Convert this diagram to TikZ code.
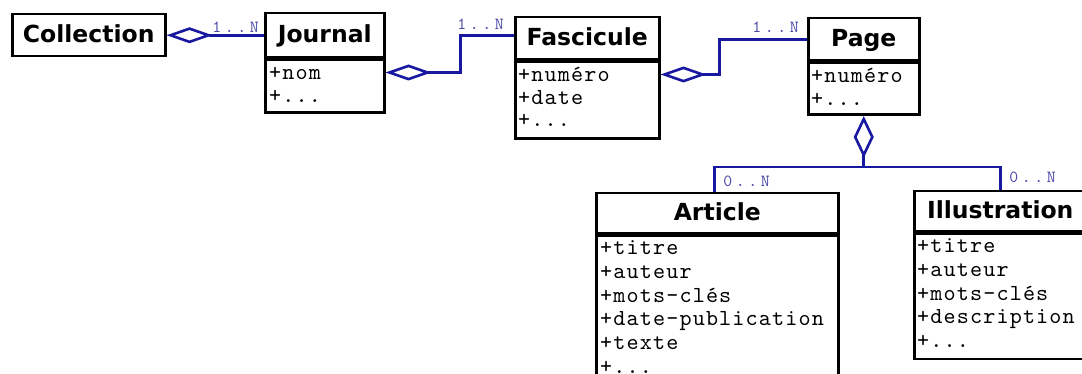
\documentclass[tikz,border=0pt]{standalone}
\usepackage{fontspec}
\usetikzlibrary{arrows.meta}
\newfontfamily\titlefont{DejaVu Sans}
\newfontfamily\myattrfont{lmmono10-regular}[Extension=.otf, LetterSpace=5]
\newfontfamily\mymultfont{lmmono10-regular}[Extension=.otf, LetterSpace=21]
\definecolor{assocblue}{RGB}{24,24,160}
\definecolor{multblue}{RGB}{75,75,170}
\begin{document}
\begin{tikzpicture}[x=1pt,y=-1pt,
 titlebox/.style={draw=black, line width=2.5pt, fill=white, font=\titlefont\bfseries\fontsize{23.5}{28}\selectfont, text height=16pt, text depth=1pt, inner sep=0pt, anchor=north west},
 attrbox/.style={draw=black, line width=2.5pt, fill=white, inner sep=0pt, anchor=north west},
 attrtext/.style={font=\myattrfont\fontsize{23}{22.5}\selectfont, align=left, inner sep=0pt, anchor=north west},
 attrtextlow/.style={attrtext, font=\myattrfont\fontsize{23}{23.7}\selectfont},
 mult/.style={font=\mymultfont\fontsize{17}{18}\selectfont, text=multblue, inner sep=0pt},
 assoc/.style={draw=assocblue, line width=2.6pt},
 agg/.style={assoc, arrows={Diamond[open,length=46pt,width=16pt]-}},
 aggv/.style={assoc, arrows={Diamond[open,length=42pt,width=20pt]-}},
]
\useasboundingbox (0,0) rectangle (1082,374);
\clip (0,0) rectangle (1082,374);
\fill[white] (0,0) rectangle (1082,374);

% Collection
\node[titlebox, minimum width=153pt, minimum height=42pt] (collection) at (11,13) {Collection};

% Journal
\node[titlebox, minimum width=119pt, minimum height=44pt] (journal) at (264,12) {Journal};
\node[attrbox, minimum width=119pt, minimum height=53pt] (journalattr) at (journal.south west) {};
\node[attrtext] (journaltext) at ([xshift=5pt,yshift=-3pt]journalattr.north west) {\rule{0pt}{18pt}+nom\\+...};

% Fascicule
\node[titlebox, minimum width=144pt, minimum height=42pt] (fascicule) at (514,16) {Fascicule};
\node[attrbox, minimum width=144pt, minimum height=77pt] (fasciculeattr) at (fascicule.south west) {};
\node[attrtext] (fasciculetext) at ([xshift=4pt,yshift=-3pt]fasciculeattr.north west) {\rule{0pt}{18pt}+numéro\\+date\\+...};

% Page
\node[titlebox, minimum width=111pt, minimum height=42pt] (page) at (807,17) {Page};
\node[attrbox, minimum width=111pt, minimum height=52pt] (pageattr) at (page.south west) {};
\node[attrtext] (pagetext) at ([xshift=4pt,yshift=-3pt]pageattr.north west) {\rule{0pt}{18pt}+numéro\\+...};

% Article
\node[titlebox, minimum width=242pt, minimum height=40pt] (article) at (595,192) {Article};
\node[attrbox, minimum width=242pt, minimum height=160pt] (articleattr) at (article.south west) {};
\node[attrtextlow] (articletext) at ([xshift=5pt,yshift=-2pt]articleattr.north west) {\rule{0pt}{18pt}+titre\\+auteur\\+mots-clés\\+date-publication\\+texte\\+...};

% Illustration
\node[titlebox, minimum width=172pt, minimum height=40pt] (illustration) at (913,190) {Illustration};
\node[attrbox, minimum width=172pt, minimum height=125pt] (illustrationattr) at (illustration.south west) {};
\node[attrtextlow] (illustrationtext) at ([xshift=4pt,yshift=-2pt]illustrationattr.north west) {\rule{0pt}{18pt}+titre\\+auteur\\+mots-clés\\+description\\+...};

% Collection - Journal
\draw[agg] (collection.east) -- (journal.west);
\node[mult, anchor=south east] (m1) at ([xshift=-5pt,yshift=3pt]journal.west) {1..N};

% Journal - Fascicule
\coordinate (jf) at ([yshift=-14pt]journalattr.north east);
\draw[agg] (jf) -- ++(75,0) |- ([yshift=3pt]fascicule.west);
\node[mult, anchor=south east] (m2) at ([xshift=-10pt,yshift=9pt]fascicule.west) {1..N};

% Fascicule - Page
\coordinate (fp) at ([yshift=-14pt]fasciculeattr.north east);
\draw[agg] (fp) -- ++(59,0) |- (page.west);
\node[mult, anchor=south east] (m3) at ([xshift=-8pt,yshift=7pt]page.west) {1..N};

% Page - Article / Illustration
\coordinate (pj) at ([yshift=-51pt]pageattr.south);
\draw[aggv] (pageattr.south) -- (pj);
\draw[assoc] (pj) -| ([xshift=-3pt]article.north);
\draw[assoc] (pj) -| (illustration.north);
\node[mult, anchor=south west] (m4) at ([xshift=6pt,yshift=5pt]article.north) {0..N};
\node[mult, anchor=south west] (m5) at ([xshift=9pt,yshift=7pt]illustration.north) {0..N};
\end{tikzpicture}
\end{document}
